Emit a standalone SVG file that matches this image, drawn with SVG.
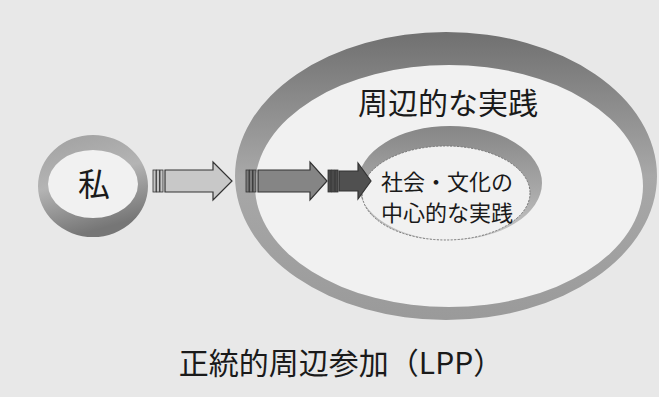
<svg xmlns="http://www.w3.org/2000/svg" width="659" height="397" viewBox="0 0 659 397">
<defs>
<linearGradient id="gBig" x1="0" y1="0" x2="0" y2="1">
<stop offset="0" stop-color="#707070"/>
<stop offset="0.5" stop-color="#a8a8a8"/>
<stop offset="1" stop-color="#9a9a9a"/>
</linearGradient>
<linearGradient id="gSmall" x1="0" y1="0" x2="0.3" y2="1">
<stop offset="0" stop-color="#a0a0a0"/>
<stop offset="0.5" stop-color="#b4b4b4"/>
<stop offset="1" stop-color="#767676"/>
</linearGradient>
<linearGradient id="gInner" x1="0" y1="0" x2="0" y2="1">
<stop offset="0" stop-color="#868686"/>
<stop offset="0.6" stop-color="#aaaaaa"/>
<stop offset="1" stop-color="#c8c8c8"/>
</linearGradient>
<style>
.arrow{stroke:#333;stroke-width:1.2;stroke-linejoin:miter}
.bar{stroke:#333;stroke-width:0.8}
.lbl{font-family:"Noto Sans CJK JP","Noto Sans CJK SC",sans-serif;fill:#1a1a1a}
.hole{fill:#f1f1f1}
</style>
</defs>
<rect width="659" height="397" fill="#e8e8e8"/>

<g id="node-periphery">
<ellipse class="hole" cx="449" cy="186" rx="194" ry="121"/>
<path fill="url(#gBig)" fill-rule="evenodd" d="M235,176 a211,144 0 1,0 422,0 a211,144 0 1,0 -422,0Z M255,186 a194,121 0 1,0 388,0 a194,121 0 1,0 -388,0Z"/>
<text class="lbl" x="448" y="114" font-size="30" font-weight="400" text-anchor="middle">周辺的な実践</text>
</g>

<g id="node-center">
<ellipse class="hole" cx="446" cy="193" rx="84" ry="47" fill="#f6f6f6"/>
<path fill="url(#gInner)" fill-rule="evenodd" d="M358,183 a92,57 0 1,0 184,0 a92,57 0 1,0 -184,0Z M362,193 a84,47 0 1,0 168,0 a84,47 0 1,0 -168,0Z"/>
<ellipse cx="446" cy="193" rx="84" ry="47" fill="none" stroke="#777" stroke-width="1" stroke-dasharray="2 1.5"/>
<text class="lbl" x="447" y="190" font-size="22" font-weight="400" text-anchor="middle">社会・文化の</text>
<text class="lbl" x="447" y="221" font-size="22" font-weight="400" text-anchor="middle">中心的な実践</text>
</g>

<g id="node-me">
<ellipse class="hole" cx="93" cy="184" rx="45" ry="34"/>
<path fill="url(#gSmall)" fill-rule="evenodd" d="M38,186 a55,51 0 1,0 110,0 a55,51 0 1,0 -110,0Z M48,184 a45,34 0 1,0 90,0 a45,34 0 1,0 -90,0Z"/>
<text class="lbl" x="94" y="196" font-size="32" font-weight="400" text-anchor="middle">私</text>
</g>

<g id="connectors">
<g id="arrow1">
<rect class="bar" x="153" y="170" width="3" height="22" fill="#c4c4c4"/>
<rect class="bar" x="156.5" y="170" width="3" height="22" fill="#c4c4c4"/>
<rect class="bar" x="160" y="170" width="3" height="22" fill="#c4c4c4"/>
<path class="arrow" fill="#c8c8c8" d="M165,170 H213 V162 L232,181 L213,200 V192 H165 Z"/>
</g>
<g id="arrow2">
<rect class="bar" x="246" y="170" width="3" height="22" fill="#7a7a7a"/>
<rect class="bar" x="249.5" y="170" width="3" height="22" fill="#7a7a7a"/>
<rect class="bar" x="253" y="170" width="3" height="22" fill="#7a7a7a"/>
<path class="arrow" fill="#858585" d="M258,170 H310 V162 L327,181 L310,200 V192 H258 Z"/>
</g>
<g id="arrow3">
<rect class="bar" x="328" y="170" width="3" height="22" fill="#4a4a4a"/>
<rect class="bar" x="331.5" y="170" width="3" height="22" fill="#4a4a4a"/>
<rect class="bar" x="335" y="170" width="3" height="22" fill="#4a4a4a"/>
<path class="arrow" fill="#505050" d="M339,171 H358 V163 L371,181 L358,199 V191 H339 Z"/>
</g>
</g>

<g id="title">
<text class="lbl" x="341" y="374" font-size="30" font-weight="400" text-anchor="middle">正統的周辺参加（LPP）</text>
</g>
</svg>
